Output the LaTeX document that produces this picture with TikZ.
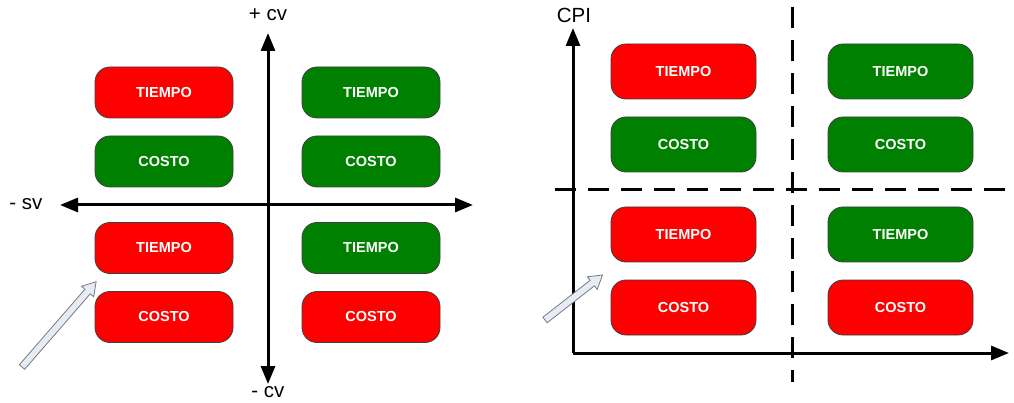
\documentclass[tikz,border=0pt]{standalone}
\usepackage{fontspec}
\setmainfont{Liberation Sans}
\usetikzlibrary{arrows.meta}
\definecolor{rojo}{HTML}{FF0000}
\definecolor{verde}{HTML}{008000}
\definecolor{hollow}{HTML}{E6ECF6}
\definecolor{hollowline}{HTML}{7A7A7A}
\begin{document}
\begin{tikzpicture}[x=1pt,y=-1pt,
  box/.style={draw=black!75,line width=0.8pt,rounded corners=15pt,inner sep=0pt,
    text=white,font=\fontsize{14.5}{16}\selectfont\bfseries},
  lbox/.style={box,minimum width=138pt,minimum height=51pt},
  rbox/.style={box,minimum width=145pt,minimum height=55pt},
  red/.style={fill=rojo},
  green/.style={fill=verde},
  axis/.style={line width=3pt,-{Triangle[length=18pt,width=14pt]}},
  axisboth/.style={line width=3pt,{Triangle[length=18pt,width=14pt]}-{Triangle[length=18pt,width=14pt]}},
  divider/.style={line width=3pt,dash pattern=on 21pt off 12pt},
  lab/.style={font=\fontsize{20.5}{22}\selectfont,inner sep=0pt},
  hollowarrow/.style={fill=hollow,draw=hollowline,line width=0.8pt,line join=miter}
]
\useasboundingbox (0,0) rectangle (1014,403);

% ---------- left panel ----------
\coordinate (hl) at (60,205);
\coordinate (hr) at (473,205);
\coordinate (vt) at (268,33);
\coordinate (vb) at (268,384);
\draw[axisboth] (hl) -- (hr);
\draw[axisboth] (vb) -- (vt);

\node[lab] (pcv) at (268,15) {+ cv};
\node[lab] (mcv) at (268,392) {- cv};
\node[lab] (msv) at (26,204) {- sv};

\node[lbox,red]   (l11) at (164,92.5)  {TIEMPO};
\node[lbox,green] (l12) at (164,161.5) {COSTO};
\node[lbox,green] (l21) at (371,92.5)  {TIEMPO};
\node[lbox,green] (l22) at (371,161.5) {COSTO};
\node[lbox,red]   (l31) at (164,248)   {TIEMPO};
\node[lbox,red]   (l32) at (164,317)   {COSTO};
\node[lbox,green] (l41) at (371,248)   {TIEMPO};
\node[lbox,red]   (l42) at (371,317)   {COSTO};

\begin{scope}[shift={(22,367)},rotate=49]
  \draw[hollowarrow] (0,-3.5) -- (100,-3.5) -- (100,-8) -- (113,0) -- (100,8) -- (100,3.5) -- (0,3.5) -- cycle;
\end{scope}

% ---------- right panel ----------
\coordinate (o) at (573,353);
\coordinate (yt) at (573,28);
\coordinate (xr) at (1009,353);
\coordinate (dh1) at (555,190);
\coordinate (dh2) at (1012,190);
\coordinate (dv1) at (792,7);
\coordinate (dv2) at (792,382);
\draw[divider] (dh1) -- (dh2);
\draw[divider] (dv1) -- (dv2);
\draw[axis,line join=miter] (o) -- (yt);
\draw[axis] (o) -- (xr);

\node[lab] (cpi) at (574,15) {CPI};

\node[rbox,red]   (r11) at (683.5,71.5)  {TIEMPO};
\node[rbox,green] (r12) at (683.5,144.5) {COSTO};
\node[rbox,green] (r21) at (900.5,71.5)  {TIEMPO};
\node[rbox,green] (r22) at (900.5,144.5) {COSTO};
\node[rbox,red]   (r31) at (683.5,234.5) {TIEMPO};
\node[rbox,red]   (r32) at (683.5,307.5) {COSTO};
\node[rbox,green] (r41) at (900.5,234.5) {TIEMPO};
\node[rbox,red]   (r42) at (900.5,307.5) {COSTO};

\begin{scope}[shift={(545,320)},rotate=38]
  \draw[hollowarrow] (0,-3.5) -- (60,-3.5) -- (60,-8) -- (73,0) -- (60,8) -- (60,3.5) -- (0,3.5) -- cycle;
\end{scope}
\end{tikzpicture}
\end{document}
